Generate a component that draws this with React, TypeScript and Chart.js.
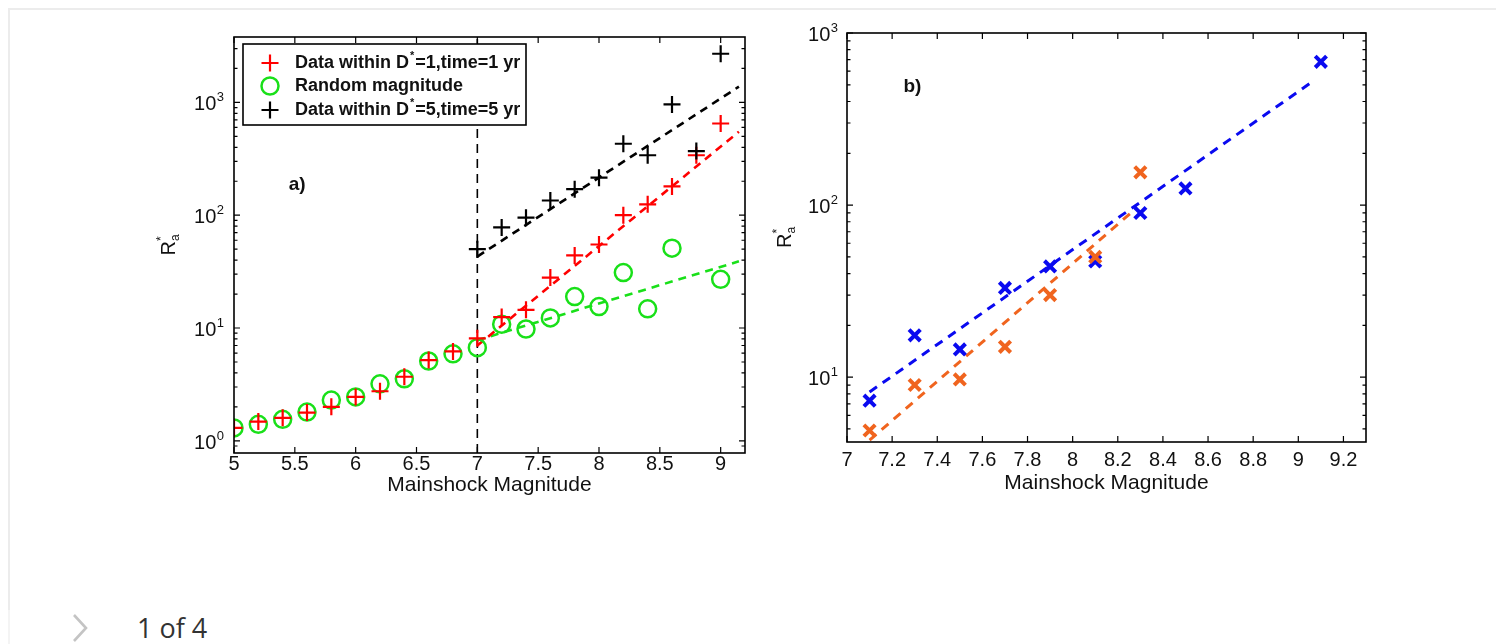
import React, { useEffect, useRef } from "react";
import { Chart, registerables } from "chart.js";

Chart.register(...registerables);

// ---------------- Panel a data ----------------
const magsA = [5.0, 5.2, 5.4, 5.6, 5.8, 6.0, 6.2, 6.4, 6.6, 6.8, 7.0, 7.2, 7.4, 7.6, 7.8, 8.0, 8.2, 8.4, 8.6, 8.8, 9.0];
const redA = [1.3, 1.48, 1.6, 1.78, 2.0, 2.45, 2.75, 3.7, 5.2, 6.2, 8.1, 12.5, 14.5, 28, 44, 55, 100, 125, 180, 340, 650];
const greenA = [1.3, 1.4, 1.55, 1.8, 2.3, 2.45, 3.2, 3.55, 5.1, 5.9, 6.7, 10.8, 9.8, 12.3, 19, 15.5, 31, 14.8, 51, null, 27];
const magsBlackA = [7.0, 7.2, 7.4, 7.6, 7.8, 8.0, 8.2, 8.4, 8.6, 8.8, 9.0];
const blackA = [50, 78, 95, 135, 170, 215, 430, 340, 960, 370, 2700];
const fitXA = [7.0, 9.15];
const fitRedA = [7.0, 550];
const fitGreenA = [7.8, 39];
const fitBlackA = [43, 1380];
const thresholdMagA = 7.0;
const xTicksA = [5, 5.5, 6, 6.5, 7, 7.5, 8, 8.5, 9];
const xRangeA = [5, 9.2];
const yRangeA = [0.78, 3800];
const legendLabelsA = ["Data within D*=1,time=1 yr", "Random magnitude", "Data within D*=5,time=5 yr"];
const panelLabelA = { x: 5.45, y: 185, text: "a)" };

// ---------------- Panel b data ----------------
const magsBlueB = [7.1, 7.3, 7.5, 7.7, 7.9, 8.1, 8.3, 8.5, 9.1];
const blueB = [7.3, 17.5, 14.5, 33, 44, 47, 90, 125, 680];
const magsOrangeB = [7.1, 7.3, 7.5, 7.7, 7.9, 8.1, 8.3];
const orangeB = [4.9, 9.0, 9.7, 15, 30, 50, 155];
const fitXBlueB = [7.1, 9.07];
const fitBlueB = [8.2, 530];
const fitXOrangeB = [7.1, 8.27];
const fitOrangeB = [4.3, 93];
const xTicksB = [7, 7.2, 7.4, 7.6, 7.8, 8, 8.2, 8.4, 8.6, 8.8, 9, 9.2];
const xRangeB = [7, 9.3];
const yRangeB = [4.2, 1000];
const panelLabelB = { x: 7.25, y: 485, text: "b)" };

const xAxisTitle = "Mainshock Magnitude";
const yAxisTitle = { base: "R", sup: "*", sub: "a" };

// ---------------- styles ----------------
const FONT = '"Liberation Sans", Arial, Helvetica, sans-serif';
const INK = "#111111";
const RED = "#ff0000";
const GREEN = "#19e019";
const BLACK = "#000000";
const BLUE = "#0a0af0";
const ORANGE = "#f0641e";

const pts = (xs: number[], ys: (number | null)[]) =>
  xs.map((x, i) => ({ x, y: ys[i] })).filter((p) => p.y !== null) as { x: number; y: number }[];

function mantissa(v: number): number {
  if (!(v > 0)) return 0;
  const e = Math.floor(Math.log10(v) + 1e-9);
  const m = v / Math.pow(10, e);
  return Math.abs(m - Math.round(m)) < 1e-6 ? Math.round(m) : 0;
}

function drawPlus(ctx: CanvasRenderingContext2D, x: number, y: number, r: number, color: string, lw: number) {
  ctx.save();
  ctx.strokeStyle = color;
  ctx.lineWidth = lw;
  ctx.beginPath();
  ctx.moveTo(x - r, y);
  ctx.lineTo(x + r, y);
  ctx.moveTo(x, y - r);
  ctx.lineTo(x, y + r);
  ctx.stroke();
  ctx.restore();
}

function drawCircle(ctx: CanvasRenderingContext2D, x: number, y: number, r: number, color: string, lw: number) {
  ctx.save();
  ctx.strokeStyle = color;
  ctx.lineWidth = lw;
  ctx.beginPath();
  ctx.arc(x, y, r, 0, Math.PI * 2);
  ctx.stroke();
  ctx.restore();
}

type PluginOpts = {
  yTitleOffset: number;
  labelGap: number;
  panelLabel: { x: number; y: number; text: string };
  legend?: { dx: number; dy: number; w: number; h: number; rows: number[]; markerX: number; textX: number };
};

function matlabPlugin(o: PluginOpts) {
  return {
    id: "matlabAxes",
    afterDatasetsDraw(chart: any) {
      const ctx: CanvasRenderingContext2D = chart.ctx;
      const a = chart.chartArea;
      const xs = chart.scales.x;
      const ys = chart.scales.y;
      ctx.save();
      // panel label
      ctx.fillStyle = INK;
      ctx.font = `bold 19px ${FONT}`;
      ctx.textBaseline = "middle";
      ctx.textAlign = "left";
      ctx.fillText(o.panelLabel.text, xs.getPixelForValue(o.panelLabel.x), ys.getPixelForValue(o.panelLabel.y));

      // legend
      if (o.legend) {
        const L = o.legend;
        const bx = a.left + L.dx;
        const by = a.top + L.dy;
        ctx.fillStyle = "#ffffff";
        ctx.fillRect(bx, by, L.w, L.h);
        ctx.strokeStyle = "#000";
        ctx.lineWidth = 1.6;
        ctx.strokeRect(bx, by, L.w, L.h);
        const items = chart.data.datasets
          .filter((d: any) => d.legendIndex !== undefined)
          .sort((p: any, q: any) => p.legendIndex - q.legendIndex);
        items.forEach((d: any, i: number) => {
          const ry = by + L.rows[i];
          const mx = bx + L.markerX;
          if (d.pointStyle === "circle") drawCircle(ctx, mx, ry, 8.5, d.borderColor, 2.5);
          else drawPlus(ctx, mx, ry, 8.5, d.borderColor, 2.2);
          ctx.fillStyle = INK;
          ctx.textBaseline = "middle";
          ctx.textAlign = "left";
          const parts = String(d.label).split("*");
          let tx = bx + L.textX;
          ctx.font = `bold 18px ${FONT}`;
          ctx.fillText(parts[0], tx, ry);
          tx += ctx.measureText(parts[0]).width;
          if (parts.length > 1) {
            ctx.font = `bold 11px ${FONT}`;
            ctx.fillText("*", tx + 1, ry - 7);
            tx += ctx.measureText("*").width + 2;
            ctx.font = `bold 18px ${FONT}`;
            ctx.fillText(parts[1], tx, ry);
          }
        });
      }
      ctx.restore();
    },
    afterDraw(chart: any) {
      const ctx: CanvasRenderingContext2D = chart.ctx;
      const a = chart.chartArea;
      const xs = chart.scales.x;
      const ys = chart.scales.y;
      ctx.save();
      ctx.strokeStyle = "#000";
      ctx.lineWidth = 1.6;
      ctx.strokeRect(a.left, a.top, a.right - a.left, a.bottom - a.top);

      ctx.lineWidth = 1.2;
      ctx.beginPath();
      for (const t of xs.ticks) {
        const px = xs.getPixelForValue(t.value);
        ctx.moveTo(px, a.bottom);
        ctx.lineTo(px, a.bottom - 6);
        ctx.moveTo(px, a.top);
        ctx.lineTo(px, a.top + 6);
      }
      for (const t of ys.ticks) {
        const m = mantissa(t.value);
        if (!m) continue;
        const py = ys.getPixelForValue(t.value);
        if (py < a.top - 0.5 || py > a.bottom + 0.5) continue;
        const len = m === 1 ? 6 : 3.5;
        ctx.moveTo(a.left, py);
        ctx.lineTo(a.left + len, py);
        ctx.moveTo(a.right, py);
        ctx.lineTo(a.right - len, py);
      }
      ctx.stroke();

      // y tick labels 10^n
      ctx.fillStyle = INK;
      ctx.textAlign = "left";
      ctx.textBaseline = "alphabetic";
      for (const t of ys.ticks) {
        if (mantissa(t.value) !== 1) continue;
        const py = ys.getPixelForValue(t.value);
        if (py < a.top - 0.5 || py > a.bottom + 0.5) continue;
        const ex = String(Math.round(Math.log10(t.value)));
        ctx.font = `13px ${FONT}`;
        const we = ctx.measureText(ex).width;
        ctx.font = `20px ${FONT}`;
        const w10 = ctx.measureText("10").width;
        const right = a.left - o.labelGap;
        ctx.font = `13px ${FONT}`;
        ctx.fillText(ex, right - we, py - 1);
        ctx.font = `20px ${FONT}`;
        ctx.fillText("10", right - we - w10 - 0.5, py + 8);
      }

      // y axis title R*_a (rotated)
      const cx = a.left - o.yTitleOffset;
      const cy = (a.top + a.bottom) / 2;
      ctx.translate(cx, cy);
      ctx.rotate(-Math.PI / 2);
      ctx.font = `20px ${FONT}`;
      const wR = ctx.measureText(yAxisTitle.base).width;
      ctx.font = `12px ${FONT}`;
      const wS = Math.max(ctx.measureText(yAxisTitle.sup).width, ctx.measureText(yAxisTitle.sub).width);
      const x0 = -(wR + wS) / 2;
      ctx.font = `20px ${FONT}`;
      ctx.fillText(yAxisTitle.base, x0, 7);
      ctx.font = `12px ${FONT}`;
      ctx.fillText(yAxisTitle.sup, x0 + wR, -3);
      ctx.fillText(yAxisTitle.sub, x0 + wR, 11);
      ctx.restore();
    },
  };
}

function baseScales(
  xRange: number[],
  xTicks: number[],
  yRange: number[],
  yWidth: number,
  xHeight: number,
  tickPad: number,
  titlePadBottom: number
) {
  return {
    x: {
      type: "linear",
      min: xRange[0],
      max: xRange[1],
      afterBuildTicks: (s: any) => {
        s.ticks = xTicks.map((v) => ({ value: v }));
      },
      afterFit: (s: any) => {
        s.height = xHeight;
      },
      grid: { display: false, drawTicks: false },
      border: { display: false },
      ticks: {
        color: INK,
        font: { family: FONT, size: 20 },
        padding: tickPad,
        maxRotation: 0,
        minRotation: 0,
        autoSkip: false,
        callback: (v: any) => String(v),
      },
      title: {
        display: true,
        text: xAxisTitle,
        color: INK,
        font: { family: FONT, size: 21 },
        padding: { top: 0, bottom: titlePadBottom },
      },
    },
    y: {
      type: "logarithmic",
      min: yRange[0],
      max: yRange[1],
      afterFit: (s: any) => {
        s.width = yWidth;
      },
      grid: { display: false, drawTicks: false },
      border: { display: false },
      ticks: { display: false },
    },
  };
}

const commonOptions = (padTop: number, padRight: number) => ({
  responsive: false,
  maintainAspectRatio: false,
  animation: false,
  events: [],
  layout: { padding: { top: padTop, right: padRight, left: 0, bottom: 0 } },
  plugins: { legend: { display: false }, tooltip: { enabled: false }, title: { display: false } },
});

function configA(): any {
  return {
    type: "scatter",
    data: {
      datasets: [
        {
          label: legendLabelsA[2],
          legendIndex: 2,
          data: pts(magsBlackA, blackA),
          pointStyle: "cross",
          pointRadius: 8.5,
          borderColor: BLACK,
          backgroundColor: BLACK,
          borderWidth: 2.2,
          order: 0,
        },
        {
          label: legendLabelsA[0],
          legendIndex: 0,
          data: pts(magsA, redA),
          pointStyle: "cross",
          pointRadius: 8.5,
          borderColor: RED,
          backgroundColor: RED,
          borderWidth: 2.2,
          order: 1,
        },
        {
          label: legendLabelsA[1],
          legendIndex: 1,
          data: pts(magsA, greenA),
          pointStyle: "circle",
          pointRadius: 8.5,
          borderColor: GREEN,
          backgroundColor: "rgba(0,0,0,0)",
          borderWidth: 2.5,
          order: 2,
        },
        {
          label: "fit red",
          data: pts(fitXA, fitRedA),
          showLine: true,
          pointRadius: 0,
          borderColor: RED,
          borderWidth: 2.6,
          borderDash: [8, 6],
          order: 3,
        },
        {
          label: "fit green",
          data: pts(fitXA, fitGreenA),
          showLine: true,
          pointRadius: 0,
          borderColor: GREEN,
          borderWidth: 2.6,
          borderDash: [8, 6],
          order: 3,
        },
        {
          label: "fit black",
          data: pts(fitXA, fitBlackA),
          showLine: true,
          pointRadius: 0,
          borderColor: BLACK,
          borderWidth: 2.6,
          borderDash: [8, 6],
          order: 3,
        },
        {
          label: "threshold",
          data: pts([thresholdMagA, thresholdMagA], yRangeA),
          showLine: true,
          pointRadius: 0,
          borderColor: BLACK,
          borderWidth: 1.6,
          borderDash: [9, 6],
          order: 4,
        },
      ],
    },
    options: {
      ...commonOptions(17, 15),
      scales: baseScales(xRangeA, xTicksA, yRangeA, 94, 47, -1, 2),
    },
    plugins: [
      matlabPlugin({
        yTitleOffset: 66,
        labelGap: 10,
        panelLabel: panelLabelA,
        legend: { dx: 9, dy: 7, w: 283, h: 81, rows: [19, 42, 66], markerX: 27, textX: 52 },
      }),
    ],
  };
}

function configB(): any {
  return {
    type: "scatter",
    data: {
      datasets: [
        {
          label: "orange",
          data: pts(magsOrangeB, orangeB),
          pointStyle: "crossRot",
          pointRadius: 8,
          borderColor: ORANGE,
          backgroundColor: ORANGE,
          borderWidth: 4,
          order: 0,
        },
        {
          label: "blue",
          data: pts(magsBlueB, blueB),
          pointStyle: "crossRot",
          pointRadius: 8,
          borderColor: BLUE,
          backgroundColor: BLUE,
          borderWidth: 4,
          order: 1,
        },
        {
          label: "fit orange",
          data: pts(fitXOrangeB, fitOrangeB),
          showLine: true,
          pointRadius: 0,
          borderColor: ORANGE,
          borderWidth: 3,
          borderDash: [9, 7],
          order: 2,
        },
        {
          label: "fit blue",
          data: pts(fitXBlueB, fitBlueB),
          showLine: true,
          pointRadius: 0,
          borderColor: BLUE,
          borderWidth: 3,
          borderDash: [9, 7],
          order: 3,
        },
      ],
    },
    options: {
      ...commonOptions(18, 14),
      scales: baseScales(xRangeB, xTicksB, yRangeB, 87, 58, 6, 4),
    },
    plugins: [matlabPlugin({ yTitleOffset: 63, labelGap: 9, panelLabel: panelLabelB })],
  };
}

function ChartCanvas(props: { left: number; top: number; width: number; height: number; make: () => any }) {
  const ref = useRef<HTMLCanvasElement | null>(null);
  useEffect(() => {
    if (!ref.current) return;
    const chart = new Chart(ref.current, props.make());
    return () => chart.destroy();
  }, []);
  return (
    <canvas
      ref={ref}
      width={props.width}
      height={props.height}
      style={{ position: "absolute", left: props.left, top: props.top, width: props.width, height: props.height }}
    />
  );
}

export default function App() {
  return (
    <div
      style={{
        position: "absolute",
        left: 0,
        top: 0,
        width: 1496,
        height: 644,
        overflow: "hidden",
        background: "#ffffff",
      }}
    >
      <div
        style={{
          position: "absolute",
          left: 8,
          top: 8,
          width: 1500,
          height: 600,
          borderTop: "2px solid #ececec",
          borderLeft: "2px solid #ececec",
        }}
      />
      <div style={{ position: "absolute", left: 8, top: 610, width: 2, height: 34, background: "#f4f4f4" }} />
      <ChartCanvas left={140} top={20} width={620} height={480} make={configA} />
      <ChartCanvas left={760} top={15} width={620} height={485} make={configB} />
      <svg style={{ position: "absolute", left: 70, top: 612 }} width={22} height={32}>
        <polyline points="4,3 16,16 4,29" fill="none" stroke="#c4c4c4" strokeWidth={2.6} />
      </svg>
      <div
        style={{
          position: "absolute",
          left: 137,
          top: 610,
          fontFamily: '"Open Sans", sans-serif',
          fontSize: 27,
          lineHeight: "36px",
          color: "#333333",
          whiteSpace: "nowrap",
        }}
      >
        1 of 4
      </div>
    </div>
  );
}
